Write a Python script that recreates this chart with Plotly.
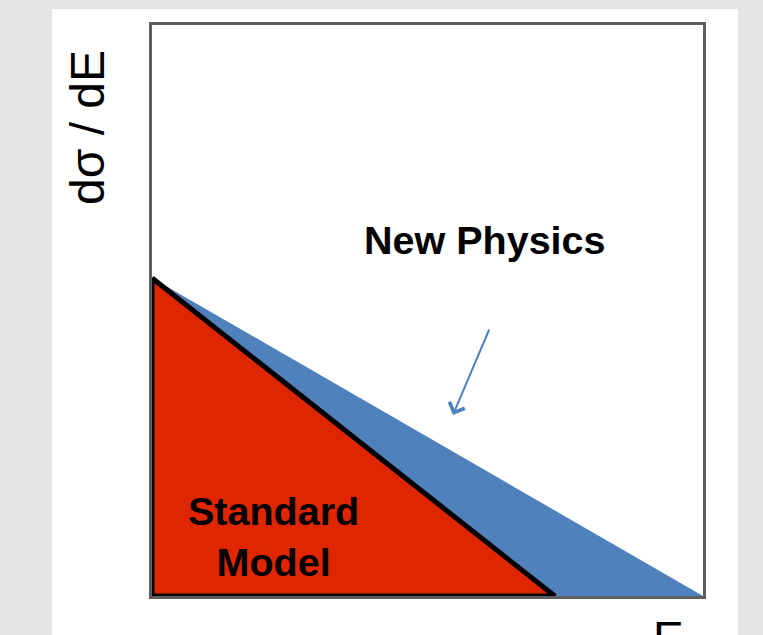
import plotly.graph_objects as go

# ---- data (arbitrary units: E on x, dσ/dE on y) ----
E_MAX = 10.0
SM_X = [0.0, 0.0, 7.31]          # Standard Model triangle
SM_Y = [5.57, 0.0, 0.0]
NP_X = [0.0, 10.0, 7.31]         # New Physics extra region
NP_Y = [5.57, 0.0, 0.0]
X_TITLE = "E"
Y_TITLE = "dσ / dE"
SM_LABEL = "<b>Standard<br>Model</b>"
NP_LABEL = "<b>New Physics</b>"

W, H = 763, 635
L, R, T, B = 152, 60, 25, 39
PW, PH = W - L - R, H - T - B


def px(x):
    return (x - L) / PW


def py(y):
    return (H - B - y) / PH


RED = "#e02600"
BLUE = "#4f81bd"

fig = go.Figure()
fig.add_trace(go.Scatter(x=NP_X + [NP_X[0]], y=NP_Y + [NP_Y[0]], fill="toself",
                         fillcolor=BLUE, mode="lines", line=dict(width=0, color=BLUE),
                         hoverinfo="skip", showlegend=False))
fig.add_trace(go.Scatter(x=SM_X + [SM_X[0]], y=SM_Y + [SM_Y[0]], fill="toself",
                         fillcolor=RED, mode="lines", line=dict(width=5, color="black"),
                         hoverinfo="skip", showlegend=False))

font = "Liberation Sans, Arial, sans-serif"
annotations = [
    dict(x=6.04, y=6.23, text=NP_LABEL, showarrow=False,
         xanchor="center", yanchor="middle",
         font=dict(family=font, size=39.5, color="black")),
    dict(x=2.2, y=1.05, text=SM_LABEL, showarrow=False,
         xanchor="center", yanchor="middle",
         font=dict(family=font, size=39.5, color="black")),
    dict(x=5.46, y=3.17, ax=37, ay=-87, text="", showarrow=True,
         arrowhead=4, arrowsize=1.6, arrowwidth=2, arrowcolor=BLUE),
    dict(xref="paper", yref="paper", x=px(88), y=py(128), text=Y_TITLE,
         textangle=-90, showarrow=False, xanchor="center", yanchor="middle",
         font=dict(family=font, size=48, color="black")),
    dict(xref="paper", yref="paper", x=px(668), y=py(638), text=X_TITLE,
         showarrow=False, xanchor="center", yanchor="middle",
         font=dict(family=font, size=46, color="black")),
]

shapes = [
    dict(type="rect", xref="paper", yref="paper", layer="below",
         x0=px(52), x1=px(738), y0=py(660), y1=py(9),
         fillcolor="white", line=dict(width=0)),
]

fig.update_layout(
    width=W, height=H,
    margin=dict(l=L, r=R, t=T, b=B, pad=0),
    paper_bgcolor="#e5e5e5", plot_bgcolor="white",
    annotations=annotations, shapes=shapes,
    xaxis=dict(range=[0, E_MAX], showgrid=False, zeroline=False, showticklabels=False,
               ticks="", showline=True, linecolor="#5e5e5e", linewidth=3, mirror=True),
    yaxis=dict(range=[0, 10], showgrid=False, zeroline=False, showticklabels=False,
               ticks="", showline=True, linecolor="#5e5e5e", linewidth=3, mirror=True),
)

fig.write_html(
    "out.html",
    config={"displayModeBar": False},
    post_script="document.body.style.margin='0';document.body.style.overflow='hidden';"
                "document.body.style.background='#e5e5e5';",
)
